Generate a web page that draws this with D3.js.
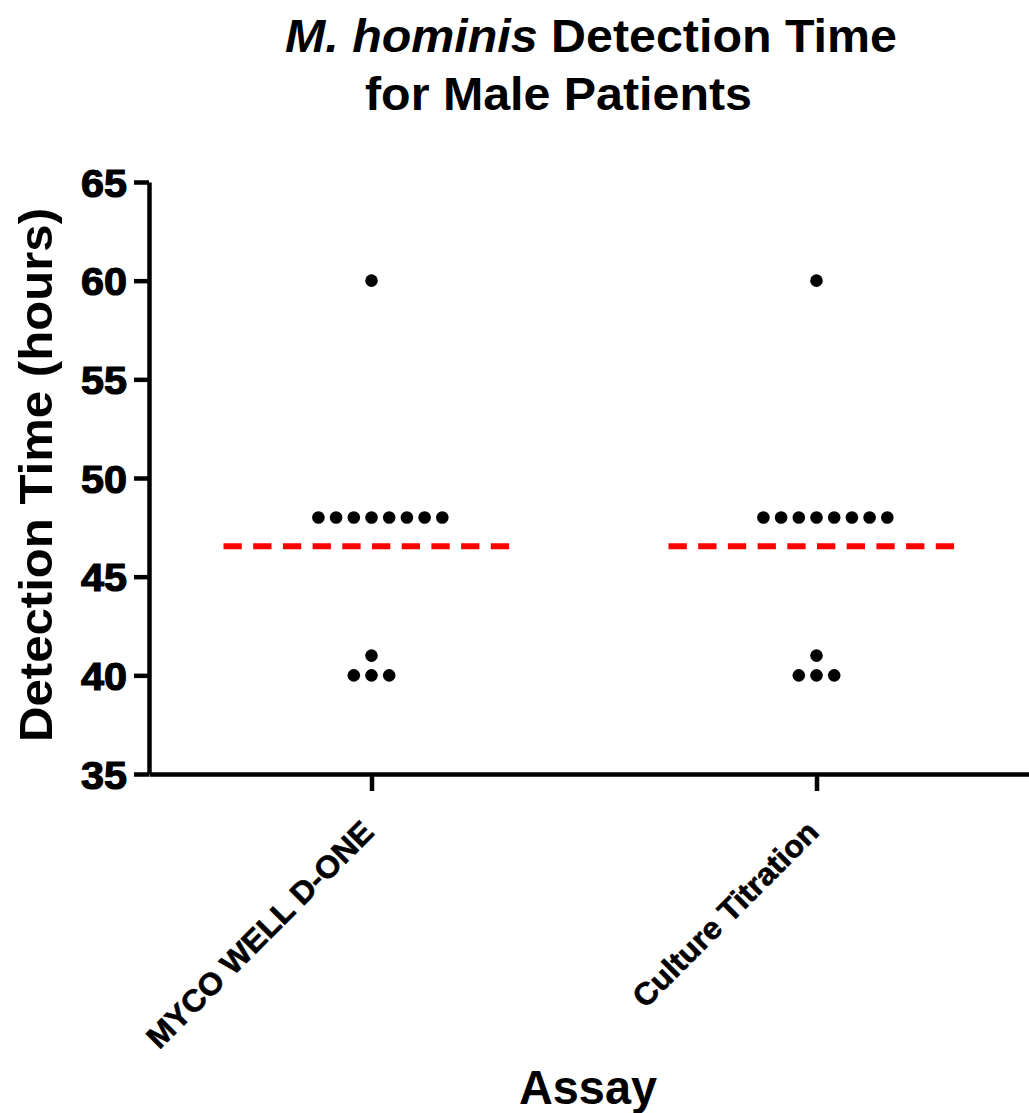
<!DOCTYPE html>
<html>
<head>
<meta charset="utf-8">
<script src="https://cdn.jsdelivr.net/npm/d3@7"></script>
<style>
  body { margin: 0; background: #fff; }
  text { font-family: "Liberation Sans", Arial, sans-serif; font-weight: bold; fill: #000; }
</style>
</head>
<body>
<div id="svg-container"></div>
<script>
// data
const assays = ['MYCO WELL D-ONE', 'Culture Titration']
const mycoWell = [60, 48, 48, 48, 48, 48, 48, 48, 48, 41, 40, 40, 40]
const cultureTitration = [60, 48, 48, 48, 48, 48, 48, 48, 48, 41, 40, 40, 40]
const yTicks = [35, 40, 45, 50, 55, 60, 65]

const series = [mycoWell, cultureTitration]

// dimensions
const dim = {
    width: 1029,
    height: 1113,
    axisX: 149,
    top: 182,
    bottom: 774
}

const svg = d3.select("#svg-container")
    .append("svg")
        .attr("width", dim.width)
        .attr("height", dim.height)

// scales
const xScale = d3.scalePoint()
    .domain(assays)
    .range([dim.axisX, dim.axisX + 890])
    .padding(0.5)

const yScale = d3.scaleLinear()
    .domain([35, 65])
    .range([dim.bottom, dim.top])

// title
const title = svg.append('g')
title.append('text')
    .attr('x', 285).attr('y', 52)
    .attr('font-size', 46)
    .attr('textLength', 612).attr('lengthAdjust', 'spacingAndGlyphs')
    .call(t => {
        t.append('tspan').attr('font-style', 'italic').text('M. hominis')
        t.append('tspan').text(' Detection Time')
    })
title.append('text')
    .attr('x', 365).attr('y', 110)
    .attr('font-size', 46)
    .attr('textLength', 387).attr('lengthAdjust', 'spacingAndGlyphs')
    .text('for Male Patients')

// y axis
const yAxis = d3.axisLeft(yScale)
    .tickValues(yTicks)
    .tickSize(15)
    .tickSizeOuter(0)
    .tickPadding(7)

const gy = svg.append('g')
    .attr('transform', `translate(${dim.axisX}, 0)`)
    .call(yAxis)
gy.select('.domain').attr('stroke-width', 4.5)
gy.selectAll('.tick line').attr('stroke-width', 4.5)
gy.selectAll('.tick text')
    .attr('font-size', 39)
    .attr('font-family', null)
    .attr('dy', '0.36em')
    .attr('textLength', 46)
    .attr('lengthAdjust', 'spacingAndGlyphs')
    .attr('stroke', '#000')
    .attr('stroke-width', 1.2)

// x axis
const xAxis = d3.axisBottom(xScale)
    .tickSize(17)
    .tickSizeOuter(0)
    .tickFormat('')

const gx = svg.append('g')
    .attr('transform', `translate(0, ${dim.bottom})`)
    .call(xAxis)
gx.select('.domain').attr('stroke-width', 4.5)
gx.selectAll('.tick line').attr('stroke-width', 4.5)

// rotated category labels
const labelLen = {'MYCO WELL D-ONE': 306, 'Culture Titration': 248}
svg.append('g')
    .selectAll('text')
    .data(assays)
    .join('text')
        .attr('transform', d => `translate(${xScale(d) + 4}, ${dim.bottom + 60}) rotate(-45)`)
        .attr('text-anchor', 'end')
        .attr('font-size', 31)
        .attr('textLength', d => labelLen[d])
        .attr('lengthAdjust', 'spacingAndGlyphs')
        .attr('stroke', '#000')
        .attr('stroke-width', 0.6)
        .text(d => d)

// axis titles
svg.append('text')
    .attr('transform', `translate(52, 475) rotate(-90)`)
    .attr('text-anchor', 'middle')
    .attr('font-size', 47)
    .attr('textLength', 534)
    .attr('lengthAdjust', 'spacingAndGlyphs')
    .text('Detection Time (hours)')

svg.append('text')
    .attr('x', 588).attr('y', 1104)
    .attr('text-anchor', 'middle')
    .attr('font-size', 49)
    .attr('textLength', 138)
    .attr('lengthAdjust', 'spacingAndGlyphs')
    .text('Assay')

// dots: points sharing a value sit side by side, one on the centre
const dotStep = 17.7
const points = []
series.forEach((vals, i) => {
    const groups = d3.group(vals, v => v)
    groups.forEach((arr, v) => {
        const n = arr.length
        const start = -Math.floor((n - 1) / 2)
        arr.forEach((_, k) => points.push({assay: assays[i], value: v, off: (start + k) * dotStep}))
    })
})

svg.append('g')
    .selectAll('circle')
    .data(points)
    .join('circle')
        .attr('cx', d => xScale(d.assay) + d.off)
        .attr('cy', d => yScale(d.value))
        .attr('r', 6.3)
        .attr('fill', '#000')

// mean lines
const meanHalf = 148
svg.append('g')
    .selectAll('line')
    .data(series)
    .join('line')
        .attr('x1', (d, i) => xScale(assays[i]) - meanHalf)
        .attr('x2', (d, i) => xScale(assays[i]) + meanHalf)
        .attr('y1', d => yScale(d3.mean(d)))
        .attr('y2', d => yScale(d3.mean(d)))
        .attr('stroke', '#ff0000')
        .attr('stroke-width', 6)
        .attr('stroke-dasharray', '18.3,11.4')
</script>
</body>
</html>
